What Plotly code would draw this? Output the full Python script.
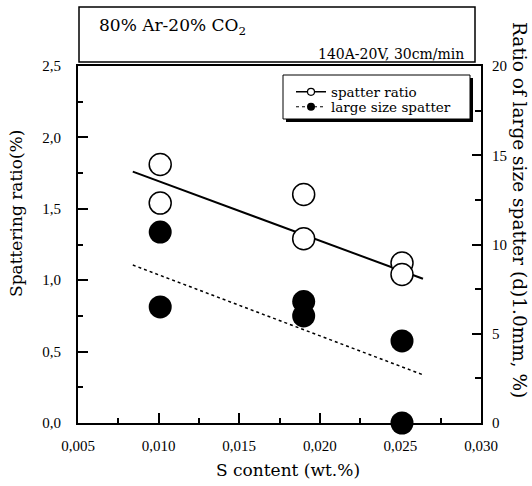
import plotly.graph_objects as go

# ---- data ----
s_content = [0.0101, 0.0101, 0.0190, 0.0190, 0.0251, 0.0251]
spatter_ratio = [1.81, 1.54, 1.60, 1.29, 1.12, 1.04]
large_size_ratio = [10.7, 6.5, 6.8, 6.0, 4.6, 0.0]
fit_x = [0.0084, 0.0264]
spatter_fit = [1.76, 1.01]
large_fit = [8.85, 2.7]

W, H = 532, 486
ML, MR, MT, MB = 78, 51, 66, 63
PW, PH = W - ML - MR, H - MT - MB


def px(x):
    return (x - ML) / PW


def py(y):
    return (H - MB - y) / PH


TICKFONT = dict(family="Liberation Serif", size=15, color="black")
TFONT = "DejaVu Serif"

fig = go.Figure()

# regression lines
fig.add_trace(go.Scatter(x=fit_x, y=spatter_fit, mode="lines",
                         line=dict(color="black", width=2), showlegend=False))
fig.add_trace(go.Scatter(x=fit_x, y=large_fit, mode="lines", yaxis="y2",
                         line=dict(color="black", width=1.5, dash="dot"), showlegend=False))
# data points
fig.add_trace(go.Scatter(x=s_content, y=spatter_ratio, mode="markers",
                         marker=dict(symbol="circle", size=22, color="white",
                                     line=dict(color="black", width=1.5)),
                         showlegend=False, cliponaxis=False))
fig.add_trace(go.Scatter(x=s_content, y=large_size_ratio, mode="markers", yaxis="y2",
                         marker=dict(symbol="circle", size=23, color="black"),
                         showlegend=False, cliponaxis=False))
# legend entries
fig.add_trace(go.Scatter(x=[None], y=[None], mode="lines+markers", name="spatter ratio",
                         line=dict(color="black", width=1.5),
                         marker=dict(symbol="circle", size=7, color="white",
                                     line=dict(color="black", width=1.2)),
                         legend="legend"))
fig.add_trace(go.Scatter(x=[None], y=[None], mode="lines+markers", name="large size spatter",
                         line=dict(color="black", width=1, dash="dot"),
                         marker=dict(symbol="circle", size=8, color="black"),
                         legend="legend2"))

shapes = [
    # top caption box
    dict(type="rect", xref="paper", yref="paper", x0=px(79), x1=px(475), y0=py(62), y1=py(7),
         line=dict(color="black", width=1.5), fillcolor="white", layer="above"),
    # legend shadow + box
    dict(type="rect", xref="paper", yref="paper", x0=px(286), x1=px(473), y0=py(122), y1=py(78),
         line=dict(width=0), fillcolor="black", layer="above"),
    dict(type="rect", xref="paper", yref="paper", x0=px(283), x1=px(470), y0=py(119), y1=py(75),
         line=dict(color="black", width=1), fillcolor="white", layer="above"),
]


def ann(text, x, y, size, xanchor="center", angle=0):
    return dict(text=text, x=px(x), y=py(y), xref="paper", yref="paper",
                xanchor=xanchor, yanchor="middle", textangle=angle, showarrow=False,
                font=dict(family=TFONT, size=size, color="black"))


annotations = [
    ann("Spattering ratio(%)", 16, 214, 17, angle=-90),
    ann("Ratio of large size spatter (d)1.0mm, %)", 520, 210, 18.5, angle=90),
    ann("S content (wt.%)", 288, 470, 17),
    ann("80% Ar-20% CO<sub>2</sub>", 97, 27, 17, xanchor="left"),
    ann("140A-20V, 30cm/min", 466, 54, 14, xanchor="right"),
]

legend_common = dict(xanchor="left", yanchor="middle", bgcolor="rgba(0,0,0,0)",
                     borderwidth=0, font=dict(family=TFONT, size=13.5, color="black"))

fig.update_layout(
    width=W, height=H,
    margin=dict(l=ML, r=MR, t=MT, b=MB, pad=0),
    paper_bgcolor="white", plot_bgcolor="white",
    separators=", ",
    xaxis=dict(range=[0.005, 0.030], dtick=0.005, tick0=0.005, tickformat=".3f",
               showgrid=False, zeroline=False, showline=True, linecolor="black",
               linewidth=2, mirror=True, ticks="inside", ticklen=10, tickwidth=1.5,
               tickcolor="black", tickfont=TICKFONT, ticklabelstandoff=8,
               minor=dict(ticks="inside", ticklen=5, tickwidth=1.5, dtick=0.0025,
                          tickcolor="black", showgrid=False)),
    yaxis=dict(range=[0, 2.5], dtick=0.5, tick0=0, tickformat=".1f",
               showgrid=False, zeroline=False, showline=True, linecolor="black",
               linewidth=2, ticks="inside", ticklen=10, tickwidth=1.5, tickcolor="black",
               tickfont=TICKFONT, ticklabelstandoff=12,
               minor=dict(ticks="inside", ticklen=5, tickwidth=1.5, dtick=0.25,
                          tickcolor="black", showgrid=False)),
    yaxis2=dict(range=[0, 20], dtick=5, tick0=0, overlaying="y", side="right",
                showgrid=False, zeroline=False, showline=True, linecolor="black",
                linewidth=2, ticks="inside", ticklen=9, tickwidth=1.5, tickcolor="black",
                tickfont=TICKFONT, ticklabelstandoff=6,
                minor=dict(ticks="inside", ticklen=6, tickwidth=1.5, dtick=2.5,
                           tickcolor="black", showgrid=False)),
    legend=dict(x=px(291), y=py(92), **legend_common),
    legend2=dict(x=px(291), y=py(107), **legend_common),
    shapes=shapes,
    annotations=annotations,
)

fig.write_html("out.html", config={"displayModeBar": False},
               post_script="document.body.style.margin='0';document.body.style.overflow='hidden';")
